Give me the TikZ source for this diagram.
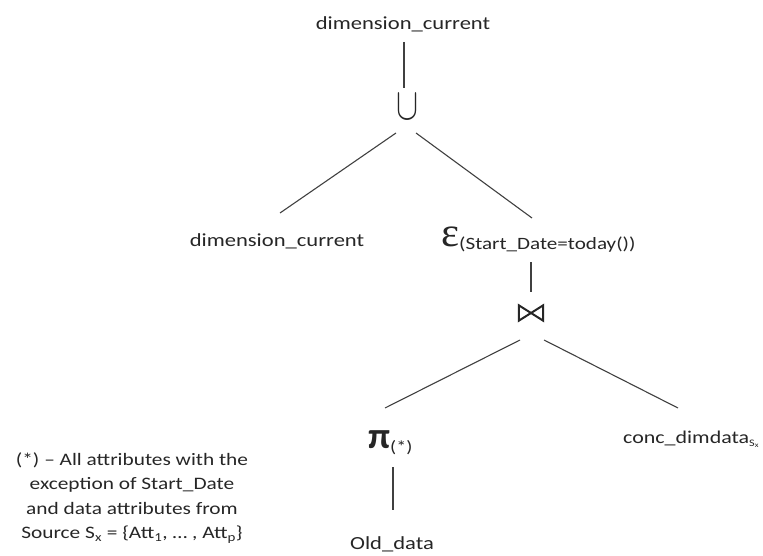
\documentclass[tikz,border=0pt]{standalone}
\usepackage{amsmath,amssymb}
\usepackage{graphicx}
\usepackage{fontspec}
\setmainfont{Carlito}[FakeStretch=1.22]
\newfontfamily\greekserif{Liberation Serif}
\usetikzlibrary{calc}
\begin{document}
\begin{tikzpicture}[x=1pt,y=-1pt,
  lbl/.style={inner sep=0pt,anchor=base,font=\fontsize{18.5}{22}\selectfont,text=black!85},
  op/.style={inner sep=0pt,text=black!85},
  edge/.style={draw=black!75,line width=1.1pt},
  bowtie/.style={draw=black!85,line width=2pt,line join=miter},
  note/.style={inner sep=0pt,align=center,font=\fontsize{17.5}{24.5}\selectfont,text=black!85}]
\useasboundingbox (0,0) rectangle (763,556);

% operator tree
\node[lbl] (top) at (403,30) {dimension\_current};
\node[op] (union) at (407,107) {\resizebox{22pt}{25pt}{$\cup$}};
\node[lbl] (left) at (277,247) {dimension\_current};
\node[lbl,anchor=base west] (sel) at (441,247)
  {\resizebox*{18pt}{20pt}{\greekserif ε}\fontsize{17.3}{19}\selectfont\raisebox{-2pt}{(Start\_Date=today())}};
% join symbol: two triangles meeting in the middle
\node[op,minimum width=24pt,minimum height=15pt] (join) at (531,313) {};
\draw[bowtie] (join.north west) -- (join.south east) -- (join.north east)
  -- (join.south west) -- cycle;
\node[lbl,anchor=base west] (proj) at (368,448)
  {\resizebox*{22pt}{18pt}{\bfseries π}\fontsize{16.5}{18}\selectfont\raisebox{-4pt}{(*)}};
\node[lbl,anchor=base west] (conc) at (623,443)
  {\fontsize{18}{20}\selectfont conc\_dimdata\raisebox{-3pt}{\fontsize{10}{11}\selectfont S\textsubscript{x}}};
\node[lbl] (old) at (392,549) {Old\_data};

% footnote on the projection list
\node[note] (fn) at (132,498) {(*) -- All attributes with the\\exception of Start\_Date\\and data attributes from\\Source S\textsubscript{x} = \{Att\textsubscript{1}, … , Att\textsubscript{p}\}};

% connectors
\draw[edge] ($(top.base)+(1,12)$) -- ($(union.center)+(-3,-19)$);
\draw[edge] ($(union.center)+(-11,26)$) -- ($(left.base)+(3,-34)$);
\draw[edge] ($(union.center)+(9,26)$) -- ($(sel.base west)+(91,-29)$);
\draw[edge] ($(sel.base west)+(90,15)$) -- ($(join.center)+(0,-21)$);
\draw[edge] ($(join.center)+(-11,27)$) -- ($(proj.base west)+(17,-40)$);
\draw[edge] ($(join.center)+(13,27)$) -- ($(conc.base west)+(55,-35)$);
\draw[edge] ($(proj.base west)+(25,19)$) -- ($(old.base)+(1,-39)$);
\end{tikzpicture}
\end{document}
